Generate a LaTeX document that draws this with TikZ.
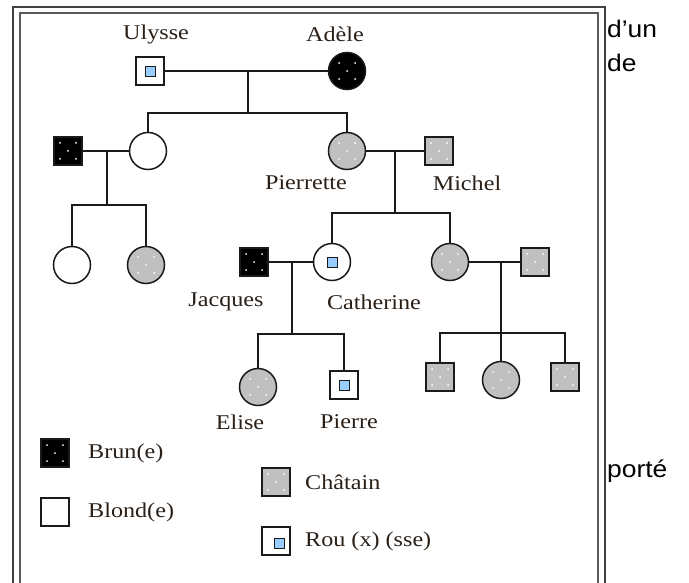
\documentclass[tikz,border=0pt]{standalone}
\usepackage{fontspec}
\setmainfont{Liberation Serif}
\newfontfamily\bodysans{Liberation Sans}
\definecolor{chestnut}{HTML}{C0C0C0}
\definecolor{redmark}{HTML}{99CCFF}
\definecolor{ink}{HTML}{1A1A1A}
\definecolor{nametext}{HTML}{2A2018}
\newcommand\pname[1]{\scalebox{1.15}[1]{#1}}
\begin{document}
\begin{tikzpicture}[x=1pt,y=-1pt,
  person/.style={draw=ink, line width=1.5pt, inner sep=0pt, outer sep=0pt},
  male/.style={person, rectangle, minimum size=28pt},
  female/.style={person, circle, minimum size=37pt},
  dotted fill/.style={path picture={
      \foreach \p in {(-8,-8),(8,-8),(0,0),(-8,8),(8,8)}
        \fill[white] ([shift={\p}]path picture bounding box.center) circle (1pt);}},
  brun/.style={fill=black, dotted fill},
  chatain/.style={fill=chestnut, dotted fill},
  blond/.style={fill=white},
  roux/.style={fill=white, path picture={
      \draw[ink, fill=redmark, line width=0.8pt]
        ([shift={(-5,-5)}]path picture bounding box.center) rectangle ++(10,10);}},
  rouxleg/.style={fill=white, path picture={
      \draw[ink, fill=redmark, line width=0.8pt]
        ([shift={(-2,-3)}]path picture bounding box.center) rectangle ++(10,10);}},
  link/.style={draw=ink, line width=1.5pt},
  caption/.style={text=nametext, font=\fontsize{21}{25}\selectfont, inner sep=0pt},
  side/.style={text=black, font=\bodysans\fontsize{24}{28}\selectfont, inner sep=0pt, anchor=base west}
]
\useasboundingbox (0,0) rectangle (689,583);
\fill[white] (0,0) rectangle (689,583);

% double frame
\begin{scope}
  \clip (0,0) rectangle (689,583);
  \draw[line width=1.5pt, draw=black!75] (13,7) rectangle (605,620);
  \draw[line width=2.5pt, draw=black!65] (20,13) rectangle (598,620);
\end{scope}

% generation I
\node[male, roux]     (ulysse) at (150,71) {};
\node[female, brun]   (adele)  at (347,71) {};
\node[caption] (lulysse) at (156,34) {\pname{Ulysse}};
\node[caption] (ladele)  at (335,34) {\pname{Adèle}};

% generation II
\node[male, brun]       (uncle)     at (68,151)  {};
\node[female, blond]    (aunt)      at (148,151) {};
\node[female, chatain]  (pierrette) at (347,151) {};
\node[male, chatain]    (michel)    at (439,151) {};
\node[caption] (lpierrette) at (306,183) {\pname{Pierrette}};
\node[caption] (lmichel)    at (467,183) {\pname{Michel}};

% generation III
\node[female, blond]    (cousina)   at (72,265)  {};
\node[female, chatain]  (cousinb)   at (146,265) {};
\node[male, brun]       (jacques)   at (254,262) {};
\node[female, roux]     (catherine) at (332,262) {};
\node[female, chatain]  (sister)    at (450,262) {};
\node[male, chatain]    (brotherinlaw) at (535,262) {};
\node[caption] (ljacques)   at (226,302) {\pname{Jacques}};
\node[caption] (lcatherine) at (374,302) {\pname{Catherine}};

% generation IV
\node[female, chatain]  (elise)  at (258,387) {};
\node[male, roux]       (pierre) at (344,385) {};
\node[male, chatain]    (kida)   at (440,377) {};
\node[female, chatain]  (kidb)   at (501,380) {};
\node[male, chatain]    (kidc)   at (565,377) {};
\node[caption] (lelise)  at (240,422) {\pname{Elise}};
\node[caption] (lpierre) at (349,422) {\pname{Pierre}};

% couples and their children
\coordinate (ma) at (248,71);  \coordinate (sa) at (248,113);
\coordinate (mb) at (107,151); \coordinate (sb) at (107,205);
\coordinate (mc) at (395,151); \coordinate (sc) at (395,213);
\coordinate (md) at (292,262); \coordinate (sd) at (292,334);
\coordinate (me) at (501,262); \coordinate (se) at (501,333);

\draw[link] (ulysse) -- (adele);
\draw[link] (ma) -- (sa);
\draw[link] (aunt.north) |- (sa) -| (pierrette.north);

\draw[link] (uncle) -- (aunt);
\draw[link] (mb) -- (sb);
\draw[link] (cousina.north) |- (sb) -| (cousinb.north);

\draw[link] (pierrette) -- (michel);
\draw[link] (mc) -- (sc);
\draw[link] (catherine.north) |- (sc) -| (sister.north);

\draw[link] (jacques) -- (catherine);
\draw[link] (md) -- (sd);
\draw[link] (elise.north) |- (sd) -| (pierre.north);

\draw[link] (sister) -- (brotherinlaw);
\draw[link] (me) -- (kidb.north);
\draw[link] (kida.north) |- (se) -| (kidc.north);

% legend
\node[male, brun]    (kbrun)    at (55,453)  {};
\node[male, blond]   (kblond)   at (55,512)  {};
\node[male, chatain] (kchatain) at (276,482) {};
\node[male, rouxleg] (kroux)    at (276,541) {};
\node[caption, anchor=west] (tbrun)    at (88,453)  {\pname{Brun(e)}};
\node[caption, anchor=west] (tblond)   at (88,512)  {\pname{Blond(e)}};
\node[caption, anchor=west] (tchatain) at (305,482) {\pname{Châtain}};
\node[caption, anchor=west] (troux)    at (305,541) {\pname{Rou (x) (sse)}};

% surrounding text
\node[side] (wa) at (607,38)  {\scalebox{1.1}[1]{d’un}};
\node[side] (wb) at (607,72)  {\scalebox{1.1}[1]{de}};
\node[side] (wc) at (607,477) {\scalebox{1.1}[1]{porté}};
\end{tikzpicture}
\end{document}
